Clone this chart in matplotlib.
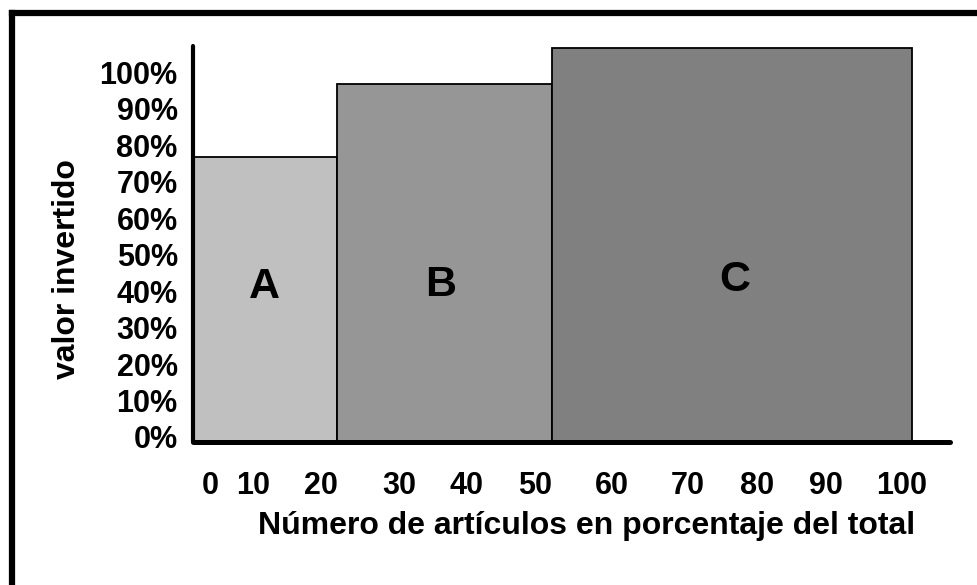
import matplotlib
matplotlib.use("Agg")
import matplotlib.pyplot as plt
from matplotlib.lines import Line2D
from matplotlib.transforms import ScaledTranslation

plt.rcParams['font.family'] = ['Liberation Sans', 'DejaVu Sans']
plt.rcParams['font.weight'] = 'bold'

# ---- data ----
categories = ["A", "B", "C"]
bar_left = [0, 20, 50]
bar_width = [20, 30, 50]
bar_height = [78, 98, 108]
bar_colors = ["#c0c0c0", "#969696", "#808080"]
label_x = [10.0, 34.4, 75.4]
label_y = [42.5, 43, 44.5]

y_ticks = [0, 10, 20, 30, 40, 50, 60, 70, 80, 90, 100]
y_labels = ["0%", "10%", "20%", "30%", "40%", "50%", "60%", "70%", "80%", "90%", "100%"]
x_tick_pos = [2.4, 8.3, 17.8, 28.7, 38.1, 47.6, 58.3, 68.8, 78.4, 88.0, 98.6]
x_labels = ["0", "10", "20", "30", "40", "50", "60", "70", "80", "90", "100"]

W, H = 977, 585
fig = plt.figure(figsize=(W / 100, H / 100), dpi=100)

# axes placement (pixels)
left_px, right_px, bottom_px, top_px = 193, 950, 442, 46
ax = fig.add_axes([left_px / W, 1 - bottom_px / H,
                   (right_px - left_px) / W, (bottom_px - top_px) / H])
ax.set_xlim(0, 105.3)
ax.set_ylim(0, 108.5)

ax.bar(bar_left, bar_height, width=bar_width, align='edge',
       color=bar_colors, edgecolor='black', linewidth=1.3, zorder=2)
for cat, x, y in zip(categories, label_x, label_y):
    ax.text(x, y, cat, ha='center', va='center',
            fontsize=31, fontweight='bold', zorder=3)

for s in ['top', 'right']:
    ax.spines[s].set_visible(False)
ax.spines['left'].set_linewidth(3.0)
ax.spines['bottom'].set_linewidth(3.6)
for s in ['left', 'bottom']:
    ax.spines[s].set_capstyle('round')
    ax.spines[s].set_zorder(4)

ax.set_yticks(y_ticks)
ax.set_yticklabels(y_labels, fontsize=22, fontweight='bold')
ax.tick_params(axis='y', length=0, pad=11)
offset_up = ScaledTranslation(0, 5 / 100, fig.dpi_scale_trans)
for lbl in ax.get_yticklabels():
    lbl.set_transform(lbl.get_transform() + offset_up)

ax.set_xticks(x_tick_pos)
ax.set_xticklabels(x_labels, fontsize=22, fontweight='bold')
ax.tick_params(axis='x', length=0, pad=21)

fig.text(67 / W, 1 - 269 / H, "valor invertido", rotation=90,
         ha='center', va='center', fontsize=23, fontweight='bold')
fig.text(587 / W, 1 - 526 / H, "Número de artículos en porcentaje del total",
         ha='center', va='center', fontsize=23, fontweight='bold')

# outer frame (top and left edges)
fig.add_artist(Line2D([12 / W, 1.0], [1 - 12.5 / H, 1 - 12.5 / H],
                      transform=fig.transFigure, color='black', linewidth=4.5,
                      solid_capstyle='projecting'))
fig.add_artist(Line2D([12 / W, 12 / W], [1 - 12.5 / H, 0.0],
                      transform=fig.transFigure, color='black', linewidth=4.5,
                      solid_capstyle='projecting'))

fig.savefig("out.png", dpi=100)
